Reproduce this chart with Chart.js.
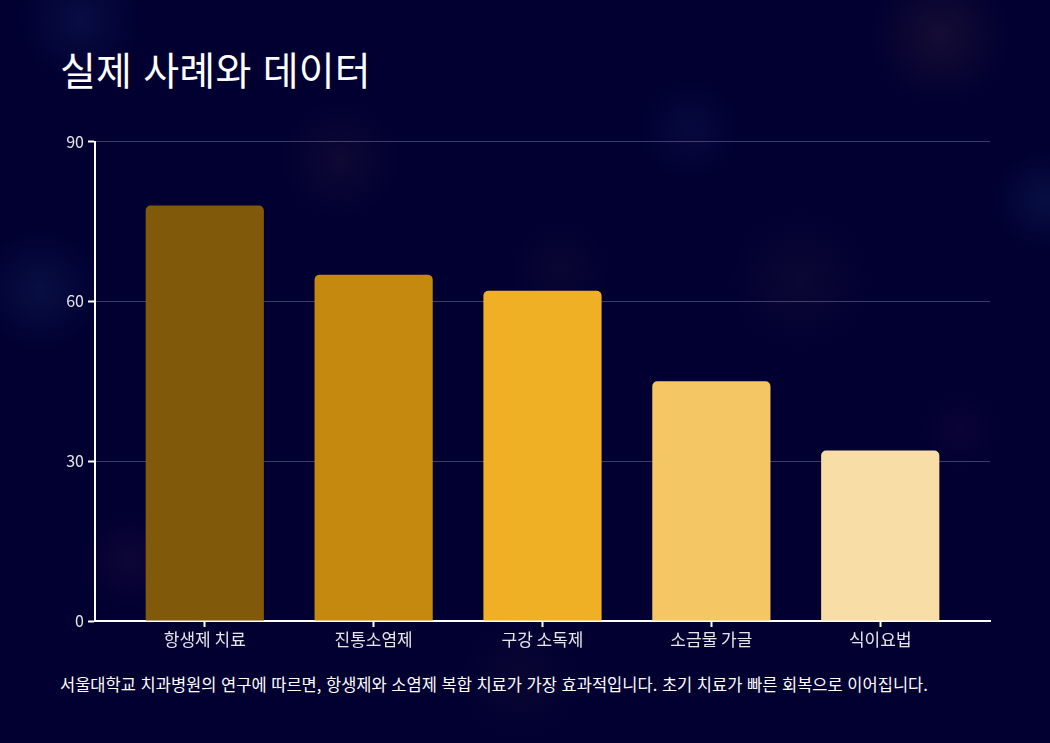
<!DOCTYPE html>
<html lang="ko">
<head>
<meta charset="utf-8">
<script src="https://cdn.jsdelivr.net/npm/chart.js@4"></script>
<style>
  html, body { margin: 0; padding: 0; }
  body {
    width: 1050px; height: 743px; overflow: hidden; position: relative;
    font-family: "Noto Sans CJK KR", "Noto Sans", sans-serif;
    background-color: #010031;
    background-image:
      radial-gradient(circle at 80px 20px, rgba(40,70,150,0.18), transparent 60px),
      radial-gradient(circle at 340px 160px, rgba(90,60,70,0.14), transparent 60px),
      radial-gradient(circle at 690px 130px, rgba(40,60,140,0.14), transparent 50px),
      radial-gradient(circle at 40px 290px, rgba(40,80,150,0.18), transparent 60px),
      radial-gradient(circle at 800px 280px, rgba(90,60,70,0.12), transparent 70px),
      radial-gradient(circle at 940px 35px, rgba(110,70,60,0.18), transparent 70px),
      radial-gradient(circle at 1045px 200px, rgba(40,80,150,0.18), transparent 50px),
      radial-gradient(circle at 960px 430px, rgba(80,30,90,0.12), transparent 40px),
      radial-gradient(circle at 130px 560px, rgba(90,40,90,0.14), transparent 50px),
      radial-gradient(circle at 560px 270px, rgba(90,60,60,0.10), transparent 50px),
      radial-gradient(circle at 520px 680px, rgba(90,60,60,0.10), transparent 60px);
  }
  h1 {
    position: absolute; left: 60px; top: 40px; margin: 0;
    font-size: 39px; font-weight: 400; color: #ffffff; letter-spacing: 0.2px;
  }
  #wrap { position: absolute; left: 40px; top: 128px; width: 960px; height: 530px; }
  p {
    position: absolute; left: 60px; top: 672px; margin: 0;
    font-size: 16.5px; color: #ffffff;
  }
</style>
</head>
<body>
<h1>실제 사례와 데이터</h1>
<div id="wrap"><canvas id="myChart"></canvas></div>
<p>서울대학교 치과병원의 연구에 따르면, 항생제와 소염제 복합 치료가 가장 효과적입니다. 초기 치료가 빠른 회복으로 이어집니다.</p>
<script>
// chart data
const categories = ["항생제 치료", "진통소염제", "구강 소독제", "소금물 가글", "식이요법"];
const values = [78, 65, 62, 45, 32];
const barColors = ["#805a0a", "#c4890e", "#f0b025", "#f5c664", "#f8dea6"];
const yTicks = [0, 30, 60, 90];

Chart.defaults.font.family = '"Noto Sans CJK KR", "Noto Sans", sans-serif';
Chart.defaults.color = "rgba(255,255,255,0.9)";

// bars sit on a linear x axis (index per category) so the axis can run past the outer bars
const points = values.map((v, i) => ({ x: i, y: v }));

const ctx = document.getElementById("myChart").getContext("2d");
const myChart = new Chart(ctx, {
  type: "bar",
  data: {
    datasets: [
      {
        data: points,
        backgroundColor: barColors,
        borderRadius: { topLeft: 5, topRight: 5 },
        borderSkipped: "bottom",
        barPercentage: 0.7,
        categoryPercentage: 1,
      },
    ],
  },
  options: {
    responsive: true,
    maintainAspectRatio: false,
    animation: false,
    layout: { padding: { top: 8, right: 10, left: 0, bottom: 0 } },
    plugins: { legend: { display: false }, tooltip: { enabled: false } },
    scales: {
      x: {
        type: "linear",
        min: -0.65,
        max: categories.length - 1 + 0.65,
        offset: false,
        afterFit: (axis) => { axis.height = 37; },
        afterBuildTicks: (axis) => { axis.ticks = categories.map((c, i) => ({ value: i })); },
        grid: { offset: false, drawOnChartArea: false, tickLength: 6, tickColor: "#ffffff", tickWidth: 2 },
        border: { color: "#ffffff", width: 2 },
        ticks: {
          font: { size: 17 },
          color: "rgba(255,255,255,0.9)",
          padding: 2,
          maxRotation: 0,
          callback: (v) => categories[v],
        },
      },
      y: {
        min: 0,
        max: 90,
        afterFit: (axis) => { axis.width = 55; },
        afterBuildTicks: (axis) => { axis.ticks = yTicks.map((v) => ({ value: v })); },
        grid: {
          color: "rgba(200,200,240,0.3)",
          tickColor: "#ffffff",
          tickLength: 7,
          tickWidth: 2,
          lineWidth: 1,
        },
        border: { color: "#ffffff", width: 2 },
        ticks: { font: { size: 16 }, color: "rgba(255,255,255,0.9)", padding: 4 },
      },
    },
  },
});
</script>
</body>
</html>
